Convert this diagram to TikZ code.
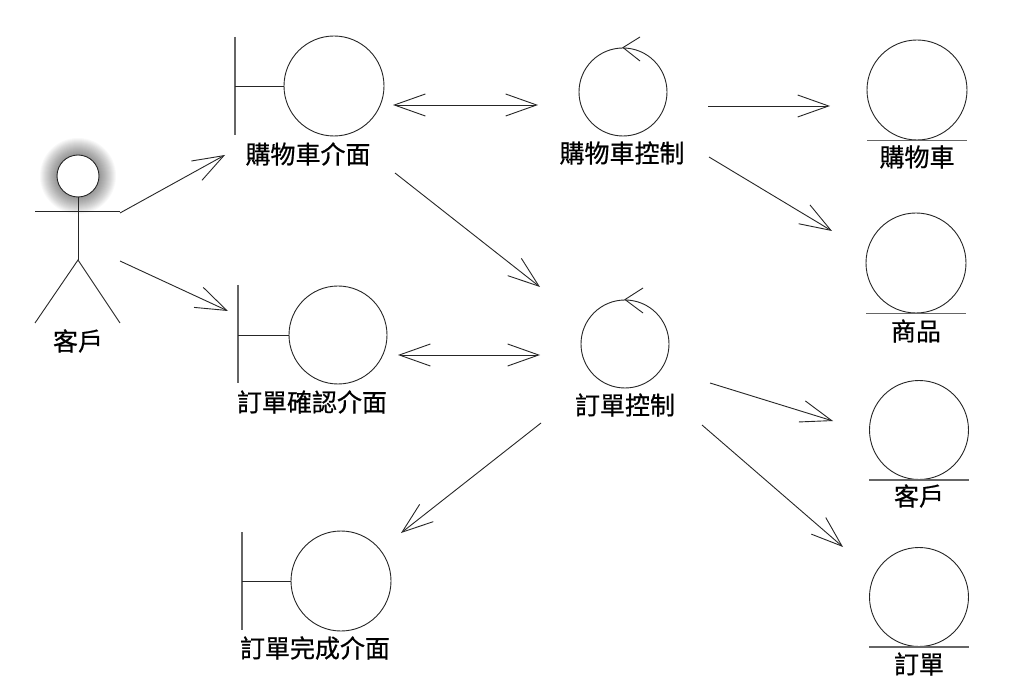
\documentclass[tikz,border=0pt]{standalone}
\usepackage{fontspec}
\newfontfamily\cjk[FakeBold=0.6]{Noto Sans CJK TC}
\usetikzlibrary{arrows.meta}
\begin{document}
\begin{tikzpicture}[x=1pt,y=-1pt,
  ln/.style={draw=black!85, line width=0.9pt},
  gl/.style={draw=black!60, line width=1.4pt},
  ball/.style={circle, ln, fill=white, inner sep=0pt},
  lbl/.style={font=\cjk\fontsize{25}{30}\selectfont, inner sep=0pt, anchor=center},
  arr/.style={ln, -{Straight Barb[length=31pt,width=22pt,line width=0.9pt]}},
  darr/.style={ln, {Straight Barb[length=31pt,width=22pt,line width=0.9pt]}-{Straight Barb[length=31pt,width=22pt,line width=0.9pt]}}
]
\useasboundingbox (0,0) rectangle (1020,700);
\fill[white] (0,0) rectangle (1020,700);

% ---------- actor ----------
\coordinate (headc) at (78,176);
\foreach \r in {22,...,38} \fill[black, opacity=0.028] (headc) circle (\r);
\node[ball, minimum size=42pt] (head) at (headc) {};
\coordinate (armL) at (35,211);
\coordinate (armR) at (120,211);
\coordinate (hip) at (78,260);
\coordinate (footL) at (35,323);
\coordinate (footR) at (120,323);
\draw[ln] (armL) -- (armR);
\draw[ln] (head.south) -- (hip);
\draw[ln] (footL) -- (hip) -- (footR);
\node[lbl] (actorlbl) at (78,341) {客戶};

% ---------- boundaries ----------
% b1
\node[ball, minimum size=100pt] (b1) at (334,86) {};
\coordinate (b1t) at (235,37); \coordinate (b1b) at (235,135); \coordinate (b1m) at (235,86);
\draw[gl] (b1t) -- (b1b);
\draw[ln] (b1m) -- (b1.west);
\node[lbl] (b1lbl) at (308,154) {購物車介面};
% b2
\node[ball, minimum size=98pt] (b2) at (338,335) {};
\coordinate (b2t) at (238,285); \coordinate (b2b) at (238,383); \coordinate (b2m) at (238,335);
\draw[gl] (b2t) -- (b2b);
\draw[ln] (b2m) -- (b2.west);
\node[lbl] (b2lbl) at (312,402) {訂單確認介面};
% b3
\node[ball, minimum size=100pt] (b3) at (341,581) {};
\coordinate (b3t) at (242,532); \coordinate (b3b) at (242,630); \coordinate (b3m) at (242,581);
\draw[gl] (b3t) -- (b3b);
\draw[ln] (b3m) -- (b3.west);
\node[lbl] (b3lbl) at (315,648) {訂單完成介面};

% ---------- controls ----------
\node[ball, minimum size=88pt] (c1) at (623,92) {};
\draw[ln] (640,37) -- (c1.north) -- (640,61);
\node[lbl] (c1lbl) at (622,153) {購物車控制};
\node[ball, minimum size=88pt] (c2) at (625,344) {};
\draw[ln] (643,288) -- (c2.north) -- (643,313);
\node[lbl] (c2lbl) at (625,405) {訂單控制};

% ---------- entities ----------
\node[ball, minimum size=100pt] (e1) at (917,90) {};
\draw[gl] ([xshift=-50pt]e1.south) -- ([xshift=50pt]e1.south);
\node[lbl] (e1lbl) at (917,157) {購物車};
\node[ball, minimum size=100pt] (e2) at (916,263) {};
\draw[gl] ([xshift=-50pt]e2.south) -- ([xshift=50pt]e2.south);
\node[lbl] (e2lbl) at (916,331) {商品};
\node[ball, minimum size=99pt] (e3) at (919,430) {};
\draw[gl] ([xshift=-50pt]e3.south) -- ([xshift=50pt]e3.south);
\node[lbl] (e3lbl) at (919,496) {客戶};
\node[ball, minimum size=99pt] (e4) at (919,597) {};
\draw[gl] ([xshift=-50pt]e4.south) -- ([xshift=50pt]e4.south);
\node[lbl] (e4lbl) at (919,664) {訂單};

% ---------- connectors ----------
\coordinate (a1s) at (120,213); \coordinate (a1e) at (225,155);
\coordinate (a2s) at (120,261); \coordinate (a2e) at (228,311);
\coordinate (a3s) at (393,105); \coordinate (a3e) at (538,105);
\coordinate (a4s) at (398,355); \coordinate (a4e) at (540,355);
\coordinate (a5s) at (395,173); \coordinate (a5e) at (540,287);
\coordinate (a6s) at (708,106); \coordinate (a6e) at (830,106);
\coordinate (a7s) at (709,157); \coordinate (a7e) at (832,231);
\coordinate (a8s) at (710,383); \coordinate (a8e) at (833,421);
\coordinate (a9s) at (702,425); \coordinate (a9e) at (843,547);
\coordinate (a10s) at (541,423); \coordinate (a10e) at (401,533);
\draw[arr] (a1s) -- (a1e);
\draw[arr] (a2s) -- (a2e);
\draw[darr] (a3s) -- (a3e);
\draw[darr] (a4s) -- (a4e);
\draw[arr] (a5s) -- (a5e);
\draw[arr] (a6s) -- (a6e);
\draw[arr] (a7s) -- (a7e);
\draw[arr] (a8s) -- (a8e);
\draw[arr] (a9s) -- (a9e);
\draw[arr] (a10s) -- (a10e);
\end{tikzpicture}
\end{document}
